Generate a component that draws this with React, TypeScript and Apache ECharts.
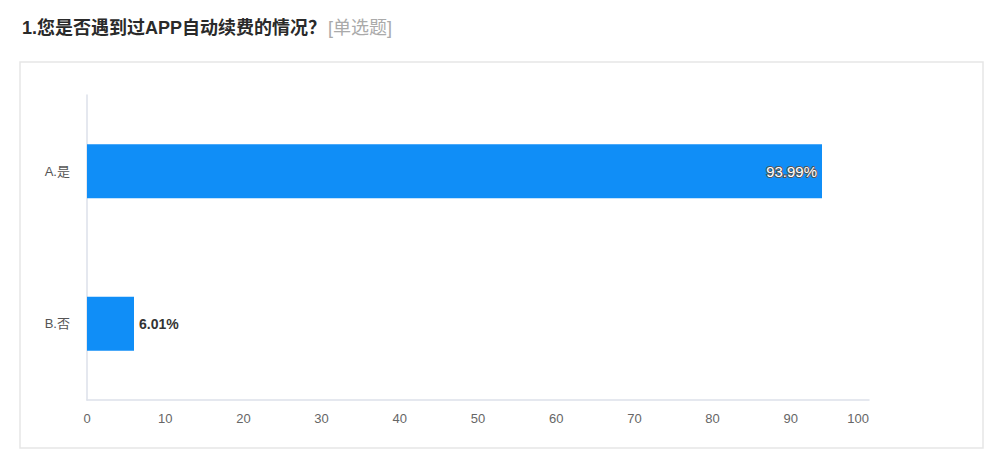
import { useEffect, useRef } from 'react';
import * as echarts from 'echarts';

const categories = ['A.是', 'B.否'];
const percents = [93.99, 6.01];
const xTicks = [0, 10, 20, 30, 40, 50, 60, 70, 80, 90, 100];

const FONT = '"Helvetica Neue", Arial, "Noto Sans CJK SC", sans-serif';

export default function App() {
  const chartRef = useRef<HTMLDivElement>(null);

  useEffect(() => {
    if (!chartRef.current) return;
    const chart = echarts.init(chartRef.current, undefined, { renderer: 'svg' });

    const option: echarts.EChartsOption = {
      animation: false,
      backgroundColor: '#ffffff',
      textStyle: { fontFamily: FONT },
      title: {
        left: 17,
        top: 14,
        text: '{q|1.您是否遇到过APP自动续费的情况？}{t|[单选题]}',
        textStyle: {
          fontWeight: 'normal',
          rich: {
            q: { fontSize: 18, color: '#2a2a2a', fontFamily: FONT, fontWeight: 'bold' },
            t: { fontSize: 18, color: '#aaa', fontFamily: FONT, fontWeight: 'normal', padding: [0, 0, 0, 2] },
          },
        },
      },
      graphic: [{
        type: 'rect',
        shape: { x: 20, y: 62, width: 963, height: 386 },
        style: { fill: '#fff', stroke: '#e6e6e6', lineWidth: 1.5 },
        z: -10,
      }],
      grid: { left: 87, right: 131, top: 95, bottom: 67 },
      xAxis: {
        type: 'value',
        min: xTicks[0],
        max: xTicks[xTicks.length - 1],
        interval: 10,
        axisLine: { show: true, lineStyle: { color: '#dde1ea', width: 1.5 } },
        axisTick: { show: false },
        splitLine: { show: false },
        axisLabel: { color: '#666', fontSize: 13, margin: 12, alignMaxLabel: 'right' },
      },
      yAxis: {
        type: 'category',
        inverse: true,
        data: categories,
        axisLine: { show: true, lineStyle: { color: '#dde1ea', width: 1.5 } },
        axisTick: { show: false },
        axisLabel: { color: '#555', fontSize: 13, margin: 17 },
      },
      series: [{
        type: 'bar',
        barWidth: 54,
        data: percents.map((v, i) => ({
          value: v,
          label: i === 0
            ? {
              show: true,
              position: 'insideRight',
              distance: 5,
              color: '#fff',
              textBorderColor: '#555',
              textBorderWidth: 2,
              fontSize: 15,
              formatter: '{c}%',
            }
            : {
              show: true,
              position: 'right',
              distance: 5,
              color: '#333',
              fontSize: 14,
              fontWeight: 600,
              formatter: '{c}%',
            },
        })),
        itemStyle: { color: '#108ef7' },
      }],
    };

    chart.setOption(option);
    return () => chart.dispose();
  }, []);

  return (
    <div
      ref={chartRef}
      style={{ position: 'fixed', left: 0, top: 0, width: 1000, height: 467 }}
    />
  );
}
